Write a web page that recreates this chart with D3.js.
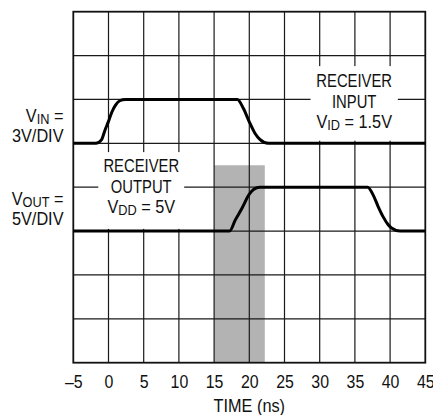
<!DOCTYPE html>
<html>
<head>
<meta charset="utf-8">
<script src="https://cdn.jsdelivr.net/npm/d3@7"></script>
<style>
  html, body { margin: 0; padding: 0; background: #fff; }
  svg { display: block; }
  text { font-family: "Liberation Sans", Arial, "Helvetica", sans-serif; fill: #111; }
</style>
</head>
<body>
<svg id="chart" width="433" height="415"></svg>
<script>
// ---- data ----
const timeTicks = [-5, 0, 5, 10, 15, 20, 25, 30, 35, 40, 45];
const divTicks = [0, 1, 2, 3, 4, 5, 6, 7, 8];
// receiver input waveform (time ns, screen divisions from bottom)
const inputT = [-5, -1.8, -1.0, -0.5, 0, 0.5, 1.0, 1.6, 2.4, 18.3, 19.15, 20.0, 20.8, 21.5, 22.7, 45];
const inputV = [5, 5, 5.08, 5.3, 5.5, 5.72, 5.87, 5.97, 6, 6, 5.8, 5.49, 5.23, 5.09, 5, 5];
// receiver output waveform
const outputT = [-5, 17.2, 18.0, 18.96, 20.0, 20.6, 21.5, 36.8, 37.6, 38.3, 39.0, 39.7, 40.2, 41.4, 45];
const outputV = [3, 3, 3.25, 3.52, 3.84, 3.95, 4, 4, 3.82, 3.56, 3.33, 3.15, 3.07, 3, 3];
// shaded propagation-delay window
const shadeT = [15, 22.2];
const shadeTop = 4.5;

(function () {
const svg = d3.select("#chart");
const pL = 73.3, pR = 425.3, pT = 11.7, pB = 362.7;
const x = d3.scaleLinear().domain([-5, 45]).range([pL, pR]);
const y = d3.scaleLinear().domain([0, 8]).range([pB, pT]);
const FS = 18.5, SUB = 14.5, SXW = 0.8, SXM = 0.88;

// shaded region
svg.append("rect")
  .attr("x", x(shadeT[0])).attr("y", y(shadeTop))
  .attr("width", x(shadeT[1]) - x(shadeT[0]))
  .attr("height", y(0) - y(shadeTop))
  .attr("fill", "#b3b3b3");

// grid
const grid = svg.append("g").attr("stroke", "#1a1a1a").attr("stroke-width", 1.2);
grid.selectAll("line.v").data(timeTicks.slice(1, -1)).join("line")
  .attr("x1", d => x(d)).attr("x2", d => x(d))
  .attr("y1", pT).attr("y2", pB);
grid.selectAll("line.h").data(divTicks.slice(1, -1)).join("line")
  .attr("x1", pL).attr("x2", pR)
  .attr("y1", d => y(d)).attr("y2", d => y(d));

// label boxes (white) that interrupt the grid
function box(tc, dTop, dBot, tw) {
  svg.append("rect")
    .attr("x", x(tc - tw / 2)).attr("y", y(dTop))
    .attr("width", x(tc + tw / 2) - x(tc - tw / 2))
    .attr("height", y(dBot) - y(dTop))
    .attr("fill", "#fff");
}
box(34.9, 6.76, 5.06, 12.4);
box(4.65, 4.8, 3.05, 12.2);

// frame
svg.append("rect")
  .attr("x", pL).attr("y", pT)
  .attr("width", pR - pL).attr("height", pB - pT)
  .attr("fill", "none").attr("stroke", "#111").attr("stroke-width", 1.8);

// waveforms
const line = d3.line().x(d => x(d[0])).y(d => y(d[1])).curve(d3.curveMonotoneX);
svg.append("path").datum(d3.zip(inputT, inputV))
  .attr("d", line).attr("fill", "none").attr("stroke", "#000").attr("stroke-width", 3);
svg.append("path").datum(d3.zip(outputT, outputV))
  .attr("d", line).attr("fill", "none").attr("stroke", "#000").attr("stroke-width", 3);

// condensed text helper
function ctext(xx, yy, anchor, parts, sx) {
  const g = svg.append("g").attr("transform", `translate(${xx},${yy}) scale(${sx},1)`);
  const t = g.append("text").attr("x", 0).attr("y", 0).attr("text-anchor", anchor).attr("font-size", FS);
  let sub = false;
  parts.forEach(p => {
    const isSub = typeof p === "object";
    const ts = t.append("tspan").text(isSub ? p.sub : p);
    if (isSub && !sub) { ts.attr("font-size", SUB).attr("dy", 2); sub = true; }
    else if (!isSub && sub) { ts.attr("dy", -2); sub = false; }
  });
  return t;
}

// x axis labels (positions via axis scale)
const axis = d3.axisBottom(x).tickValues(timeTicks).tickSize(0).tickPadding(0)
  .tickFormat(d => d < 0 ? "\u2013" + Math.abs(d) : String(d));
const ag = svg.append("g").attr("transform", `translate(0,${pB})`).call(axis);
ag.select(".domain").remove();
ag.attr("font-family", null).attr("font-size", null);
ag.selectAll(".tick text").attr("font-size", FS).attr("dy", null).attr("y", 0)
  .attr("fill", "#111")
  .attr("transform", `translate(0,25.5) scale(0.86,1)`);

ctext((pL + pR) / 2, 411.5, "middle", ["TIME (ns)"], SXM);

// left labels
ctext(63.5, 121.7, "end", ["V", {sub: "IN"}, " ="], SXM);
ctext(63.5, 141.7, "end", ["3V/DIV"], SXM);
ctext(63.5, 205, "end", ["V", {sub: "OUT"}, " ="], SXM);
ctext(63.5, 225, "end", ["5V/DIV"], SXM);

// annotations
ctext(x(34.9), 86.7, "middle", ["RECEIVER"], SXW);
ctext(x(34.9), 107.7, "middle", ["INPUT"], SXW);
ctext(x(34.9), 128.3, "middle", ["V", {sub: "ID"}, " = 1.5V"], SXM);

ctext(x(4.65), 171.7, "middle", ["RECEIVER"], SXW);
ctext(x(4.65), 192.7, "middle", ["OUTPUT"], SXW);
ctext(x(4.65), 212.7, "middle", ["V", {sub: "DD"}, " = 5V"], SXM);
})();
</script>
</body>
</html>
